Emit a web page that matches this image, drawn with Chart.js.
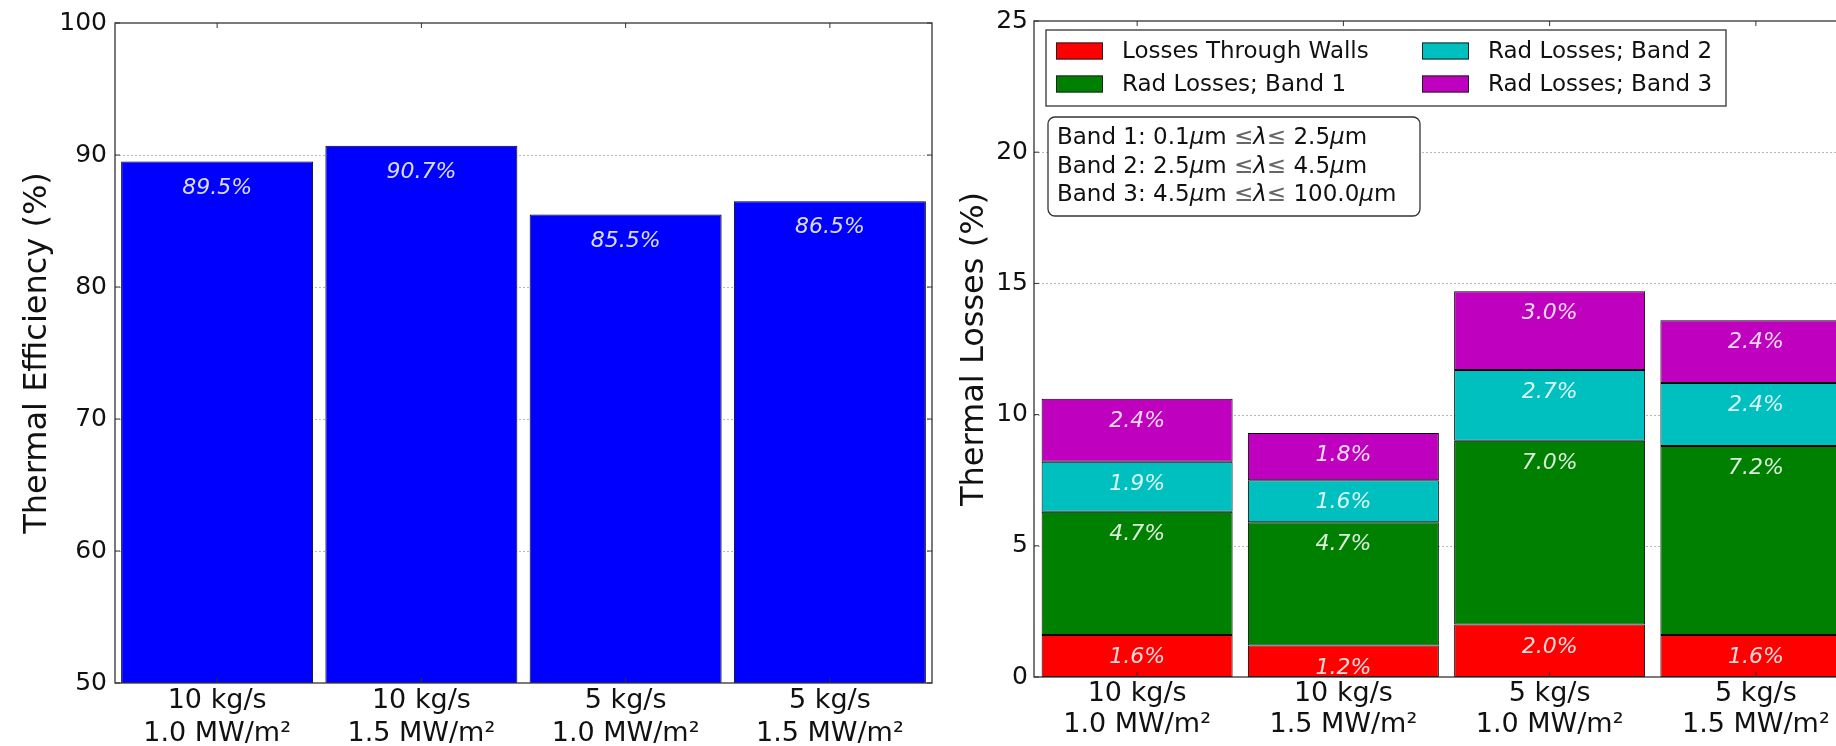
<!DOCTYPE html>
<html>
<head>
<meta charset="utf-8">
<script src="https://cdn.jsdelivr.net/npm/chart.js@4.4.1/dist/chart.umd.min.js"></script>
<style>
  html, body { margin: 0; padding: 0; background: #fff; overflow: hidden; width: 1836px; height: 746px; }
  #effBox { position: absolute; left: 0; top: 0; width: 950px; height: 746px; }
  #lossBox { position: absolute; left: 940px; top: 0; width: 960px; height: 746px; }
</style>
</head>
<body>
<div id="effBox"><canvas id="effChart"></canvas></div>
<div id="lossBox"><canvas id="lossChart"></canvas></div>
<script>
// data
const categories = [
  ['10 kg/s', '1.0 MW/m²'],
  ['10 kg/s', '1.5 MW/m²'],
  ['5 kg/s', '1.0 MW/m²'],
  ['5 kg/s', '1.5 MW/m²'],
];
const efficiency = [89.5, 90.7, 85.5, 86.5];

const wallLosses = [1.6, 1.2, 2.0, 1.6];
const band1Losses = [4.7, 4.7, 7.0, 7.2];
const band2Losses = [1.9, 1.6, 2.7, 2.4];
const band3Losses = [2.4, 1.8, 3.0, 2.4];
const lossLabels = ['Losses Through Walls', 'Rad Losses; Band 1', 'Rad Losses; Band 2', 'Rad Losses; Band 3'];
const lossColors = ['#ff0000', '#008000', '#00bfbf', '#bf00bf'];

const effTicks = { min: 50, max: 100, step: 10 };
const lossTicks = { min: 0, max: 25, step: 5 };

// band note lines: [text, style] (0 normal, 1 italic, 2 light)
const bandNotes = [
  [['Band 1: 0.1', 0], ['μ', 1], ['m ', 0], ['≤', 2], ['λ', 1], ['≤', 2], [' 2.5', 0], ['μ', 1], ['m', 0]],
  [['Band 2: 2.5', 0], ['μ', 1], ['m ', 0], ['≤', 2], ['λ', 1], ['≤', 2], [' 4.5', 0], ['μ', 1], ['m', 0]],
  [['Band 3: 4.5', 0], ['μ', 1], ['m ', 0], ['≤', 2], ['λ', 1], ['≤', 2], [' 100.0', 0], ['μ', 1], ['m', 0]],
];

const FONT = '"DejaVu Sans", sans-serif';
Chart.defaults.font.family = FONT;
Chart.defaults.color = '#111';

// dotted grid, box frame and inward ticks like the matplotlib axes
const framePlugin = {
  id: 'frame',
  beforeDatasetsDraw(chart) {
    const { ctx, chartArea: a } = chart;
    const y = chart.scales.y;
    ctx.save();
    ctx.strokeStyle = '#b8b8b8';
    ctx.lineWidth = 1;
    ctx.setLineDash([2, 2]);
    y.ticks.forEach(t => {
      if (t.value === y.min || t.value === y.max) return;
      const py = Math.round(y.getPixelForValue(t.value)) + 0.5;
      ctx.beginPath(); ctx.moveTo(a.left, py); ctx.lineTo(a.right, py); ctx.stroke();
    });
    ctx.restore();
  },
  afterDatasetsDraw(chart) {
    const { ctx, chartArea: a } = chart;
    const x = chart.scales.x, y = chart.scales.y;
    ctx.save();
    ctx.strokeStyle = '#333';
    ctx.lineWidth = 1.3;
    ctx.strokeRect(a.left, a.top, a.right - a.left, a.bottom - a.top);
    ctx.lineWidth = 1;
    y.ticks.forEach(t => {
      const py = y.getPixelForValue(t.value);
      ctx.beginPath();
      ctx.moveTo(a.left, py); ctx.lineTo(a.left + 5, py);
      ctx.moveTo(a.right, py); ctx.lineTo(a.right - 5, py);
      ctx.stroke();
    });
    x.ticks.forEach((t, i) => {
      const px = x.getPixelForTick(i);
      ctx.beginPath();
      ctx.moveTo(px, a.top); ctx.lineTo(px, a.top + 5);
      ctx.moveTo(px, a.bottom); ctx.lineTo(px, a.bottom - 5);
      ctx.stroke();
    });
    ctx.restore();
  }
};

// percent labels near the top of every bar segment
const valueLabels = {
  id: 'valueLabels',
  afterDatasetsDraw(chart, args, opts) {
    const ctx = chart.ctx, y = chart.scales.y;
    ctx.save();
    ctx.font = 'italic 22px ' + FONT;
    ctx.fillStyle = 'rgba(255,255,255,0.86)';
    ctx.textAlign = 'center';
    ctx.textBaseline = 'middle';
    chart.data.datasets.forEach((ds, di) => {
      chart.getDatasetMeta(di).data.forEach((bar, i) => {
        const top = y.getValueForPixel(bar.y);
        ctx.fillText(ds.data[i].toFixed(1) + '%', bar.x, y.getPixelForValue(top - opts.offset));
      });
    });
    ctx.restore();
  }
};

// two-column legend box inside the axes (column-major order)
const boxLegend = {
  id: 'boxLegend',
  afterDraw(chart) {
    const { ctx, chartArea: a } = chart;
    const bx = a.left + 12, by = a.top + 9, bw = 680, bh = 76;
    ctx.save();
    ctx.fillStyle = '#fff';
    ctx.fillRect(bx, by, bw, bh);
    ctx.strokeStyle = '#333';
    ctx.lineWidth = 1.3;
    ctx.strokeRect(bx, by, bw, bh);
    ctx.font = '23px ' + FONT;
    ctx.textBaseline = 'middle';
    chart.data.datasets.forEach((ds, i) => {
      const col = Math.floor(i / 2), row = i % 2;
      const sx = bx + 10 + col * 366;
      const cy = by + 21 + row * 33;
      ctx.fillStyle = ds.backgroundColor;
      ctx.fillRect(sx, cy - 8.5, 47, 17);
      ctx.strokeStyle = '#222';
      ctx.lineWidth = 1;
      ctx.strokeRect(sx + 0.5, cy - 8, 46, 16);
      ctx.fillStyle = '#111';
      ctx.fillText(ds.label, sx + 66, cy + 1);
    });
    ctx.restore();
  }
};

// rounded note box listing the wavelength bands
const bandBox = {
  id: 'bandBox',
  afterDraw(chart) {
    const { ctx, chartArea: a } = chart;
    const bx = a.left + 14, by = a.top + 96, bw = 372, bh = 99;
    ctx.save();
    ctx.fillStyle = '#fff';
    ctx.strokeStyle = '#333';
    ctx.lineWidth = 1.3;
    ctx.beginPath();
    ctx.roundRect(bx, by, bw, bh, 7);
    ctx.fill(); ctx.stroke();
    ctx.textBaseline = 'alphabetic';
    bandNotes.forEach((line, li) => {
      let tx = bx + 9;
      const ty = by + 27 + li * 28.5;
      line.forEach(([txt, style]) => {
        ctx.font = (style === 1 ? 'italic ' : '') + '23px ' + FONT;
        ctx.fillStyle = style === 2 ? '#666' : '#111';
        ctx.fillText(txt, tx, ty);
        tx += ctx.measureText(txt).width;
      });
    });
    ctx.restore();
  }
};

new Chart(document.getElementById('effChart'), {
  type: 'bar',
  data: {
    labels: categories,
    datasets: [{
      data: efficiency,
      backgroundColor: '#0000ff',
      borderColor: '#000',
      borderWidth: 1,
      borderSkipped: false,
      barPercentage: 0.94,
      categoryPercentage: 1,
    }],
  },
  options: {
    responsive: true,
    maintainAspectRatio: false,
    animation: false,
    layout: { padding: { left: 0, top: 22, right: 18, bottom: 0 } },
    plugins: { legend: { display: false }, tooltip: { enabled: false }, valueLabels: { offset: 2 } },
    scales: {
      x: {
        grid: { display: false, drawTicks: false },
        border: { display: false },
        ticks: { font: { size: 27 }, padding: 2 },
        afterFit(s) { s.height = 63; },
      },
      y: {
        min: effTicks.min, max: effTicks.max,
        grid: { display: false, drawTicks: false },
        border: { display: false },
        ticks: { stepSize: effTicks.step, font: { size: 25 }, padding: 8 },
        title: { display: true, text: 'Thermal Efficiency (%)', font: { size: 32 }, padding: { top: 18, bottom: 0 } },
        afterFit(s) { s.width = 115; },
      },
    },
  },
  plugins: [framePlugin, valueLabels],
});

const lossSeries = [wallLosses, band1Losses, band2Losses, band3Losses];
new Chart(document.getElementById('lossChart'), {
  type: 'bar',
  data: {
    labels: categories,
    datasets: lossSeries.map((vals, i) => ({
      label: lossLabels[i],
      data: vals,
      backgroundColor: lossColors[i],
      borderColor: '#000',
      borderWidth: 1,
      borderSkipped: false,
      barPercentage: 0.926,
      categoryPercentage: 1,
    })),
  },
  options: {
    responsive: true,
    maintainAspectRatio: false,
    animation: false,
    layout: { padding: { left: 0, top: 18, right: 41, bottom: 0 } },
    plugins: { legend: { display: false }, tooltip: { enabled: false }, valueLabels: { offset: 0.85 } },
    scales: {
      x: {
        stacked: true,
        grid: { display: false, drawTicks: false },
        border: { display: false },
        ticks: { font: { size: 27, lineHeight: 1.15 }, padding: 1 },
        afterFit(s) { s.height = 69; },
      },
      y: {
        stacked: true,
        min: lossTicks.min, max: lossTicks.max,
        grid: { display: false, drawTicks: false },
        border: { display: false },
        ticks: { stepSize: lossTicks.step, font: { size: 25 }, padding: 6 },
        title: { display: true, text: 'Thermal Losses (%)', font: { size: 32 }, padding: { top: 15, bottom: 0 } },
        afterFit(s) { s.width = 94; },
      },
    },
  },
  plugins: [framePlugin, valueLabels, boxLegend, bandBox],
});
</script>
</body>
</html>
